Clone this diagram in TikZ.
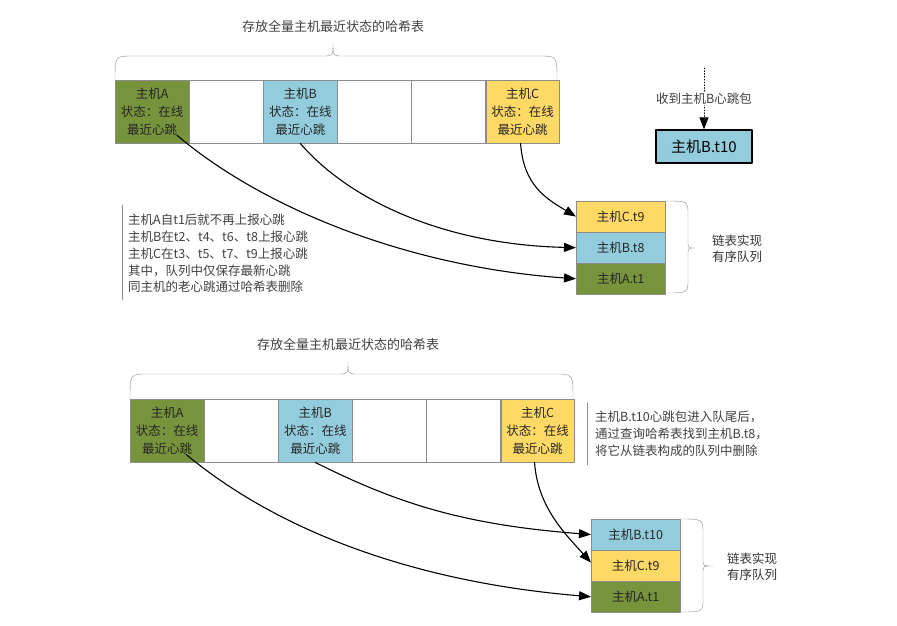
\documentclass[tikz,border=0pt]{standalone}
\usepackage{fontspec}
\setmainfont{Noto Sans CJK SC}
\usetikzlibrary{arrows.meta}
\definecolor{hgreen}{HTML}{77933C}
\definecolor{hblue}{HTML}{93CDDD}
\definecolor{hyellow}{HTML}{FFD966}
\definecolor{lgray}{HTML}{8C8C8C}
\begin{document}
\begin{tikzpicture}[x=1pt,y=-1pt,>={Triangle[length=12pt,width=9pt]},font=\fontsize{12.5}{18}\selectfont,line join=round,line cap=round,
	cell/.style={draw=lgray,minimum width=73.7pt,minimum height=63pt,inner sep=0pt,anchor=north west,align=center,text=black!85},
	qcell/.style={draw=lgray,minimum width=89pt,minimum height=30.7pt,inner sep=0pt,anchor=north west,text=black!85},
	link/.style={->,line width=1.1pt},
	note/.style={anchor=north west,align=left,inner sep=0pt,text=black!75,font=\fontsize{12.5}{16.8}\selectfont}]
	\useasboundingbox (0,0) rectangle (897,626);
	% upper half: hash table
	\node[text=black!75,font=\fontsize{13}{15}\selectfont] (title1) at (333,27) {存放全量主机最近状态的哈希表};
	\draw[lgray] (115,80) .. controls (115,56) .. (133,56) -- (323,56) .. controls (333,56) .. (333,43) .. controls (333,56) .. (343,56) -- (539,56) .. controls (557,56) .. (557,80);
	\node[cell,fill=hgreen] (hA) at (115,80) {主机A\\状态：在线\\最近心跳};
	\node[cell] (h2) at (hA.north east) {};
	\node[cell,fill=hblue] (hB) at (h2.north east) {主机B\\状态：在线\\最近心跳};
	\node[cell] (h4) at (hB.north east) {};
	\node[cell] (h5) at (h4.north east) {};
	\node[cell,fill=hyellow] (hC) at (h5.north east) {主机C\\状态：在线\\最近心跳};
	% upper half: queue
	\node[qcell,fill=hyellow] (qC) at (576,201) {主机C.t9};
	\node[qcell,fill=hblue] (qB) at (qC.south west) {主机B.t8};
	\node[qcell,fill=hgreen] (qA) at (qB.south west) {主机A.t1};
	\draw[lgray] (666,201) .. controls (688,201) .. (688,215) -- (688,241) .. controls (688,248) .. (695,248) .. controls (688,248) .. (688,255) -- (688,279) .. controls (688,293) .. (666,293);
	\node[align=center,text=black!80,font=\fontsize{12.5}{16}\selectfont] (ql1) at (737,249) {链表实现\\有序队列};
	\draw[link] ([xshift=-12pt,yshift=8pt]hA.south east) .. controls +(85,72) and +(-170,-12) .. (qA.west);
	\draw[link] (hB.south) .. controls +(50,58) and +(-130,-3) .. (qB.west);
	\draw[link] ([xshift=-2pt]hC.south) .. controls +(3,42) and +(-30,-18) .. (qC.west);
	% incoming packet
	\node[draw,line width=1.3pt,fill=hblue,minimum width=96pt,minimum height=33pt,inner sep=0pt,font=\fontsize{15}{17}\selectfont] (pkt) at (704,146.5) {主机B.t10};
	\coordinate (src) at (704,68);
	\draw[dotted,line width=0.8pt,->] (src) -- (pkt.north) node[midway,fill=white,inner sep=1pt,text=black!75] (pl) {收到主机B心跳包};
	\draw[lgray] (122,205) -- (122,300);
	\node[note] (n1) at (128,214) {主机A自t1后就不再上报心跳\\主机B在t2、t4、t6、t8上报心跳\\主机C在t3、t5、t7、t9上报心跳\\其中，队列中仅保存最新心跳\\同主机的老心跳通过哈希表删除};
	% lower half: hash table
	\node[text=black!75,font=\fontsize{13}{15}\selectfont] (title2) at (348,345) {存放全量主机最近状态的哈希表};
	\draw[lgray] (130,399) .. controls (130,374) .. (148,374) -- (338,374) .. controls (348,374) .. (348,362) .. controls (348,374) .. (358,374) -- (555,374) .. controls (573,374) .. (573,399);
	\node[cell,fill=hgreen] (lA) at (130,399) {主机A\\状态：在线\\最近心跳};
	\node[cell] (l2) at (lA.north east) {};
	\node[cell,fill=hblue] (lB) at (l2.north east) {主机B\\状态：在线\\最近心跳};
	\node[cell] (l4) at (lB.north east) {};
	\node[cell] (l5) at (l4.north east) {};
	\node[cell,fill=hyellow] (lC) at (l5.north east) {主机C\\状态：在线\\最近心跳};
	\draw[lgray] (587,403) -- (587,465);
	\node[note] (n2) at (595,411) {主机B.t10心跳包进入队尾后，\\通过查询哈希表找到主机B.t8，\\将它从链表构成的队列中删除};
	% lower half: queue
	\node[qcell,fill=hblue] (rB) at (591,519) {主机B.t10};
	\node[qcell,fill=hyellow] (rC) at (rB.south west) {主机C.t9};
	\node[qcell,fill=hgreen] (rA) at (rC.south west) {主机A.t1};
	\draw[lgray] (680,519) .. controls (703,519) .. (703,534) -- (703,559) .. controls (703,566) .. (713,566) .. controls (703,566) .. (703,573) -- (703,598) .. controls (703,612) .. (680,612);
	\node[align=center,text=black!80,font=\fontsize{12.5}{16}\selectfont] (rl1) at (752,567) {链表实现\\有序队列};
	\draw[link] ([xshift=-18pt,yshift=8pt]lA.south east) .. controls +(90,75) and +(-180,-15) .. (rA.west);
	\draw[link] (lB.south) .. controls +(80,40) and +(-130,-10) .. (rB.west);
	\draw[link] ([xshift=-3pt]lC.south) .. controls +(3,45) and +(-25,-28) .. ([yshift=3pt]rC.west);
\end{tikzpicture}
\end{document}
